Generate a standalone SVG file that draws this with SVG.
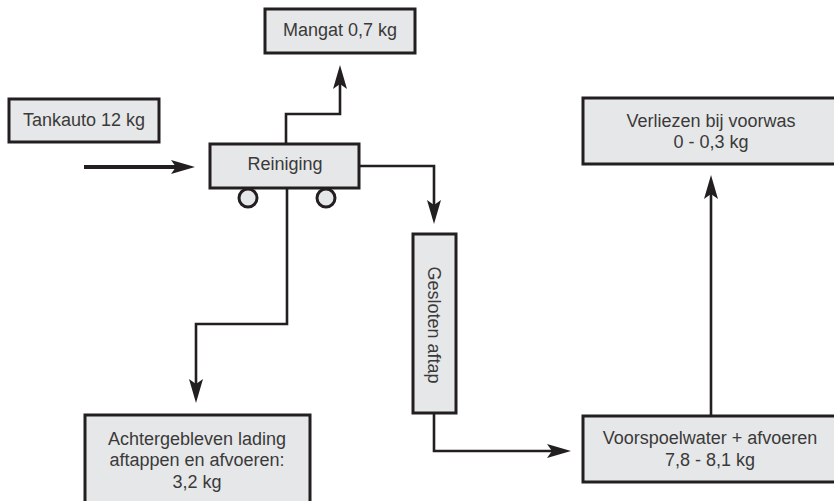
<svg xmlns="http://www.w3.org/2000/svg" width="834" height="501" viewBox="0 0 834 501">
  <style>
    .box { fill: #e6e7e8; stroke: #231f20; stroke-width: 3; }
    .lbl { font-family: "Liberation Sans", Arial, sans-serif; font-size: 18px; fill: #3a3a3a; text-anchor: middle; }
    .flow { fill: none; stroke: #231f20; stroke-width: 2.6; marker-end: url(#head); }
  </style>
  <defs>
    <marker id="head" markerUnits="userSpaceOnUse" markerWidth="24" markerHeight="14" refX="16" refY="7" orient="auto">
      <path d="M0,0 L24,7 L0,14 L5,7 z" fill="#231f20"/>
    </marker>
  </defs>
  <rect width="834" height="501" fill="#ffffff"/>

  <g id="connectors">
    <path class="flow" d="M84,167 H187" style="stroke-width:4"/>
    <path class="flow" d="M286,144 V114 H340 V73"/>
    <path class="flow" d="M359,166 H434 V216"/>
    <path class="flow" d="M287,188 V324 H196 V395"/>
    <path class="flow" d="M434,413 V451 H563"/>
    <path class="flow" d="M711,416 V183"/>
  </g>

  <g id="mangat">
    <rect class="box" x="265" y="9" width="150" height="44"/>
    <text class="lbl" x="340" y="36">Mangat 0,7 kg</text>
  </g>

  <g id="tankauto">
    <rect class="box" x="9" y="99" width="150" height="43"/>
    <text class="lbl" x="84" y="126">Tankauto 12 kg</text>
  </g>

  <g id="reiniging">
    <rect class="box" x="210" y="144" width="149" height="44"/>
    <text class="lbl" x="285" y="170">Reiniging</text>
    <circle class="box" cx="248" cy="198" r="9"/>
    <circle class="box" cx="326" cy="198" r="9"/>
  </g>

  <g id="verliezen">
    <rect class="box" x="583" y="98" width="256" height="66"/>
    <text class="lbl" x="711" y="127">Verliezen bij voorwas</text>
    <text class="lbl" x="711" y="148">0 - 0,3 kg</text>
  </g>

  <g id="gesloten-aftap">
    <rect class="box" x="413" y="234" width="43" height="179"/>
    <text class="lbl" transform="translate(434.5,325) rotate(90)" x="0" y="6.5">Gesloten aftap</text>
  </g>

  <g id="achtergebleven">
    <rect class="box" x="85" y="415" width="225" height="92"/>
    <text class="lbl" x="197" y="445">Achtergebleven lading</text>
    <text class="lbl" x="197" y="466">aftappen en afvoeren:</text>
    <text class="lbl" x="197" y="488">3,2 kg</text>
  </g>

  <g id="voorspoelwater">
    <rect class="box" x="583" y="416" width="256" height="66"/>
    <text class="lbl" x="710" y="444">Voorspoelwater + afvoeren</text>
    <text class="lbl" x="710" y="466">7,8 - 8,1 kg</text>
  </g>
</svg>
